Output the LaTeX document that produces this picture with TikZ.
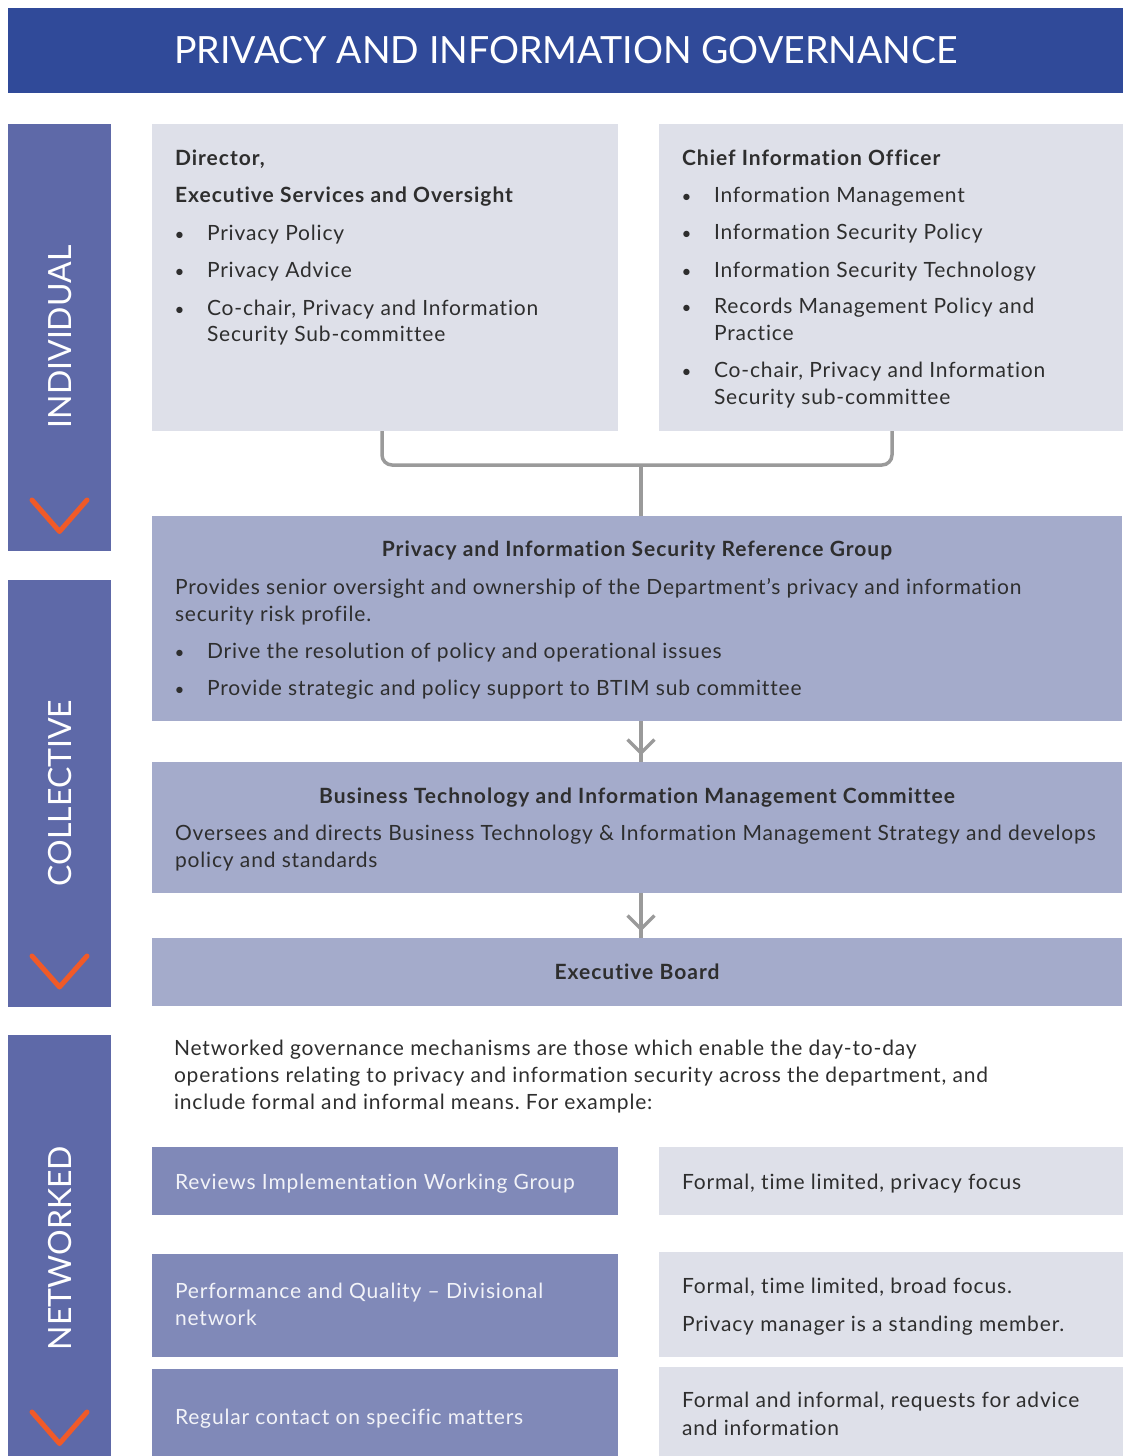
\documentclass[tikz,border=0pt]{standalone}
\usepackage{fontspec}
\setmainfont{Lato}[Ligatures=NoCommon]
\newfontfamily\bodyfont{Lato}[LetterSpace=4.0, Ligatures=NoCommon]
\newfontfamily\headfont{Lato}[LetterSpace=4.8, Ligatures=NoCommon]
\usetikzlibrary{calc}
\frenchspacing

\definecolor{titleblue}{HTML}{304A99}
\definecolor{sideblue}{HTML}{5E69A8}
\definecolor{lightbox}{HTML}{DEE0E9}
\definecolor{midbox}{HTML}{A4ABCB}
\definecolor{netbox}{HTML}{8089B8}
\definecolor{connc}{HTML}{9A9A9A}
\definecolor{chevc}{HTML}{F05A28}
\definecolor{ink}{HTML}{2E2E2E}
\definecolor{paper}{HTML}{F2F3F8}

\begin{document}
\begin{tikzpicture}[x=1pt,y=-1pt,
  box/.style={inner sep=0, outer sep=0, anchor=north west, draw=none},
  lbox/.style={box, fill=lightbox},
  mbox/.style={box, fill=midbox},
  nbox/.style={box, fill=netbox},
  sbar/.style={box, fill=sideblue},
  txt/.style={anchor=base west, inner sep=0, outer sep=0, text=ink,
    font=\bodyfont\fontsize{21}{27}\selectfont},
  wtxt/.style={txt, text=paper},
  hd/.style={txt, font=\headfont\bfseries\fontsize{21}{27}\selectfont},
  chd/.style={hd, anchor=base},
  bul/.style={anchor=base, inner sep=0, outer sep=0, text=ink,
    font=\fontsize{17}{17}\selectfont},
  conn/.style={draw=connc, line width=3.5pt},
  chev/.style={draw=chevc, line width=5pt, line cap=round, line join=round},
  slabel/.style={rotate=90, text=white, inner sep=0,
    font=\fontsize{32}{32}\selectfont}
]
\useasboundingbox (0,0) rectangle (1123,1456);

% title banner
\node[box, fill=titleblue, minimum width=1115pt, minimum height=85pt] (banner) at (8,8) {};
\node[anchor=base, inner sep=0, text=white, font=\fontsize{37.5}{38}\selectfont] (title) at (566,63) {PRIVACY AND INFORMATION GOVERNANCE};

% side bars
\node[sbar, minimum width=103pt, minimum height=427pt] (sInd) at (8,124) {};
\node[sbar, minimum width=103pt, minimum height=427pt] (sCol) at (8,580) {};
\node[sbar, minimum width=103pt, minimum height=421pt] (sNet) at (8,1035) {};
\node[slabel] (lInd) at (60,337) {INDIVIDUAL};
\node[slabel] (lCol) at (60,793) {COLLECTIVE};
\node[slabel] (lNet) at (60,1248) {NETWORKED};
\draw[chev] (32,500) -- (59.5,531.5) -- (87,500);
\draw[chev] (32,956) -- (59.5,987) -- (87,956);
\draw[chev] (32,1412) -- (59.5,1443.5) -- (87,1412);

% boxes
\node[lbox, minimum width=466pt, minimum height=307pt] (dir) at (152,124) {};
\node[lbox, minimum width=464pt, minimum height=307pt] (cio) at (659,124) {};
\node[mbox, minimum width=970pt, minimum height=205pt] (pisrg) at (152,516) {};
\node[mbox, minimum width=970pt, minimum height=131pt] (btim) at (152,762) {};
\node[mbox, minimum width=970pt, minimum height=68pt] (exec) at (152,938) {};
\node[nbox, minimum width=466pt, minimum height=68pt] (rev) at (152,1147) {};
\node[lbox, minimum width=464pt, minimum height=68pt] (revR) at (659,1147) {};
\node[nbox, minimum width=466pt, minimum height=103pt] (perf) at (152,1254) {};
\node[lbox, minimum width=464pt, minimum height=105pt] (perfR) at (659,1252) {};
\node[nbox, minimum width=466pt, minimum height=87pt] (reg) at (152,1369) {};
\node[lbox, minimum width=464pt, minimum height=89pt] (regR) at (659,1367) {};

% connectors
\coordinate (jn) at (641,465);
\draw[conn, rounded corners=10pt] ([xshift=-3pt]dir.south) |- (jn) -| ([xshift=1pt]cio.south);
\draw[conn] (jn) -- (jn |- pisrg.north);
\draw[conn] (jn |- pisrg.south) -- (jn |- btim.north);
\draw[conn, line join=round] ($(jn |- btim.north)+(-13.5,-22.5)$) -- ($(jn |- btim.north)+(0,-9)$) -- ($(jn |- btim.north)+(13.5,-22.5)$);
\draw[conn] (jn |- btim.south) -- (jn |- exec.north);
\draw[conn, line join=round] ($(jn |- exec.north)+(-13.5,-22.5)$) -- ($(jn |- exec.north)+(0,-9)$) -- ($(jn |- exec.north)+(13.5,-22.5)$);

% director
\node[hd] (d0) at (175,165) {Director,};
\node[hd] (d1) at (175,202) {Executive Services and Oversight};
\node[bul] (db1) at (179.5,240) {\textbullet};
\node[txt] (d2) at (207,240) {Privacy Policy};
\node[bul] (db2) at (179.5,277) {\textbullet};
\node[txt] (d3) at (207,277) {Privacy Advice};
\node[bul] (db3) at (179.5,315) {\textbullet};
\node[txt] (d4) at (207,315) {Co-chair, Privacy and Information};
\node[txt] (d5) at (207,341) {Security Sub-committee};

% chief information officer
\node[hd] (c0) at (682,165) {Chief Information Officer};
\node[bul] (cb1) at (686.5,202) {\textbullet};
\node[txt] (c1) at (714,202) {Information Management};
\node[bul] (cb2) at (686.5,239) {\textbullet};
\node[txt] (c2) at (714,239) {Information Security Policy};
\node[bul] (cb3) at (686.5,277) {\textbullet};
\node[txt] (c3) at (714,277) {Information Security Technology};
\node[bul] (cb4) at (686.5,313) {\textbullet};
\node[txt] (c4) at (714,313) {Records Management Policy and};
\node[txt] (c5) at (714,340) {Practice};
\node[bul] (cb5) at (686.5,377) {\textbullet};
\node[txt] (c6) at (714,377) {Co-chair, Privacy and Information};
\node[txt] (c7) at (714,404) {Security sub-committee};

% reference group
\node[chd] (p0) at (637,556) {Privacy and Information Security Reference Group};
\node[txt] (p1) at (175,594) {Provides senior oversight and ownership of the Department’s privacy and information};
\node[txt] (p2) at (175,621) {security risk profile.};
\node[bul] (pb1) at (179.5,658) {\textbullet};
\node[txt] (p3) at (207,658) {Drive the resolution of policy and operational issues};
\node[bul] (pb2) at (179.5,695) {\textbullet};
\node[txt] (p4) at (207,695) {Provide strategic and policy support to BTIM sub committee};

% committee
\node[chd] (b0) at (637,803) {Business Technology and Information Management Committee};
\node[txt] (b1) at (175,840) {Oversees and directs Business Technology \& Information Management Strategy and develops};
\node[txt] (b2) at (175,867) {policy and standards};

% executive board
\node[chd] (e0) at (637,979) {Executive Board};

% networked mechanisms
\node[txt] (n1) at (174,1055) {Networked governance mechanisms are those which enable the day-to-day};
\node[txt] (n2) at (174,1082) {operations relating to privacy and information security across the department, and};
\node[txt] (n3) at (174,1109) {include formal and informal means. For example:};

\node[wtxt] (r1) at (175,1189) {Reviews Implementation Working Group};
\node[txt] (rr1) at (682,1189) {Formal, time limited, privacy focus};
\node[wtxt] (q1) at (175,1298) {Performance and Quality – Divisional};
\node[wtxt] (q2) at (175,1325) {network};
\node[txt] (qr1) at (682,1293) {Formal, time limited, broad focus.};
\node[txt] (qr2) at (682,1331) {Privacy manager is a standing member.};
\node[wtxt] (g1) at (175,1424) {Regular contact on specific matters};
\node[txt] (gr1) at (682,1407) {Formal and informal, requests for advice};
\node[txt] (gr2) at (682,1435) {and information};
\end{tikzpicture}
\end{document}
